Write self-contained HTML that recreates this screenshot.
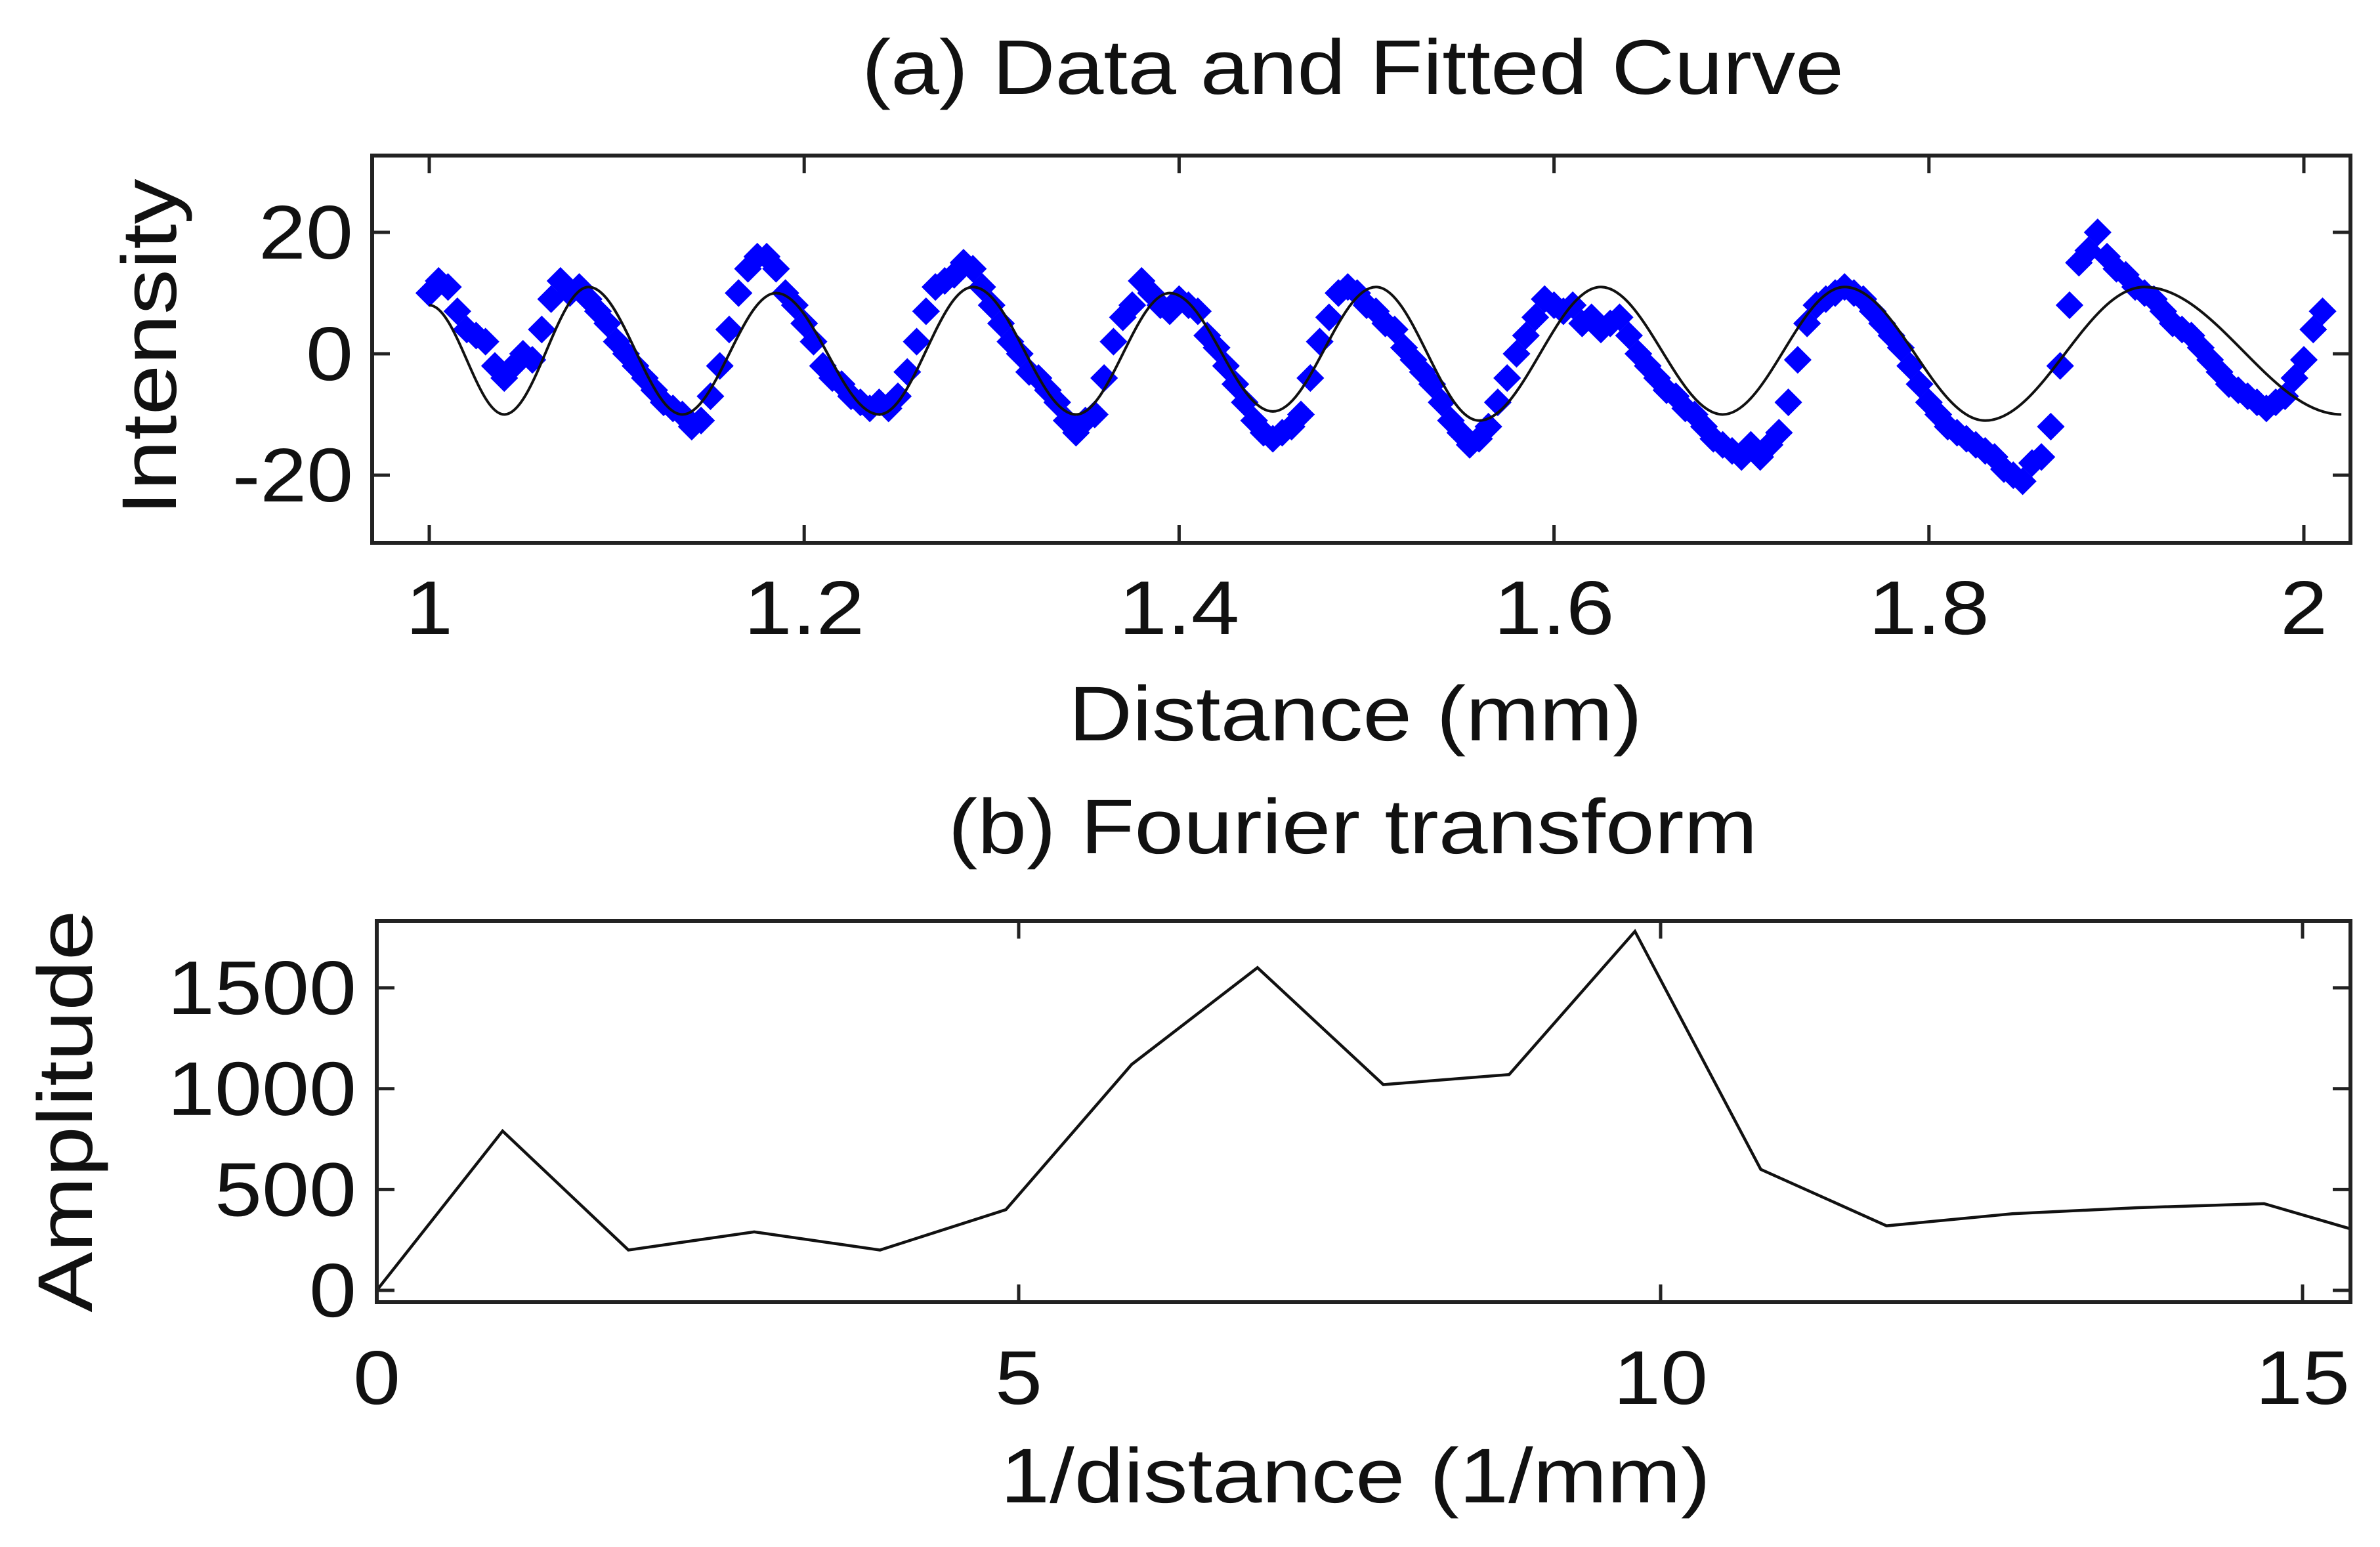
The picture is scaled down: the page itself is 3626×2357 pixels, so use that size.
<!DOCTYPE html>
<html><head><meta charset="utf-8"><style>
html,body{margin:0;padding:0;background:#fff;}
svg{display:block;font-family:"Liberation Sans",Arial,sans-serif;}
</style></head><body>
<svg id="fig" width="3626" height="2357" viewBox="0 0 3626 2357" xmlns="http://www.w3.org/2000/svg">
<rect x="0" y="0" width="3626" height="2357" fill="#fff"/>
<g id="pa"></g>
<g id="pb"></g>
</svg>
<script>
// ---- Panel (a) data ----
const dataX = [1.00,1.005,1.01,1.015,1.02,1.025,1.03,1.035,1.04,1.045,1.05,1.055,1.06,1.065,1.07,1.075,1.08,1.085,1.09,1.095,1.10,1.105,1.11,1.115,1.12,1.125,1.13,1.135,1.14,1.145,1.15,1.155,1.16,1.165,1.17,1.175,1.18,1.185,1.19,1.195,1.20,1.205,1.21,1.215,1.22,1.225,1.23,1.235,1.24,1.245,1.25,1.255,1.26,1.265,1.27,1.275,1.28,1.285,1.29,1.295,1.30,1.305,1.31,1.315,1.32,1.325,1.33,1.335,1.34,1.345,1.35,1.355,1.36,1.365,1.37,1.375,1.38,1.385,1.39,1.395,1.40,1.405,1.41,1.415,1.42,1.425,1.43,1.435,1.44,1.445,1.45,1.455,1.46,1.465,1.47,1.475,1.48,1.485,1.49,1.495,1.50,1.505,1.51,1.515,1.52,1.525,1.53,1.535,1.54,1.545,1.55,1.555,1.56,1.565,1.57,1.575,1.58,1.585,1.59,1.595,1.60,1.605,1.61,1.615,1.62,1.625,1.63,1.635,1.64,1.645,1.65,1.655,1.66,1.665,1.67,1.675,1.68,1.685,1.69,1.695,1.70,1.705,1.71,1.715,1.72,1.725,1.73,1.735,1.74,1.745,1.75,1.755,1.76,1.765,1.77,1.775,1.78,1.785,1.79,1.795,1.80,1.805,1.81,1.815,1.82,1.825,1.83,1.835,1.84,1.845,1.85,1.855,1.86,1.865,1.87,1.875,1.88,1.885,1.89,1.895,1.90,1.905,1.91,1.915,1.92,1.925,1.93,1.935,1.94,1.945,1.95,1.955,1.96,1.965,1.97,1.975,1.98,1.985,1.99,1.995,2.00,2.005,2.01];
const dataY = [10,12,11,7,4,3,2,-2,-4,-2,0,-1,4,9,12,10,11,9,7,5,2,0,-2,-4,-6,-8,-9,-10,-12,-11,-7,-2,4,10,14,16,16,14,10,8,5,2,-2,-4,-5,-7,-8,-9,-8,-9,-7,-3,2,7,11,12,13,15,14,11,8,5,2,0,-3,-4,-6,-8,-11,-13,-11,-10,-4,2,6,8,12,10,8,7,9,8,7,3,1,-2,-5,-8,-11,-13,-14,-13,-12,-10,-4,2,6,10,11,10,8,7,5,4,1,-1,-3,-5,-8,-11,-13,-15,-14,-12,-8,-4,0,3,6,9,8,7,8,5,6,4,5,6,3,0,-2,-4,-6,-7,-9,-10,-12,-14,-15,-16,-17,-15,-17,-15,-13,-8,-1,5,8,9,10,11,10,9,7,5,3,1,-2,-5,-8,-10,-12,-13,-14,-15,-16,-17,-19,-20,-21,-18,-17,-12,-2,8,15,17,20,16,14,13,11,10,9,7,5,4,3,1,-1,-3,-5,-6,-7,-8,-9,-8,-7,-4,-1,4,7];
// fitted curve extrema (x, y)
const fitX = [1.00,1.04,1.085,1.135,1.185,1.24,1.29,1.345,1.395,1.45,1.505,1.56,1.625,1.69,1.755,1.83,1.915,2.02];
const fitY = [8,-10,11,-10,10,-10,11,-10,10,-9.5,11,-11,11,-10,11,-11,11,-10];
const xTicksA = [1,1.2,1.4,1.6,1.8,2];
const xTickLabelsA = ["1","1.2","1.4","1.6","1.8","2"];
const yTicksA = [-20,0,20];
const yTickLabelsA = ["-20","0","20"];
// ---- Panel (b) data ----
const freqX = [0,0.98,1.96,2.94,3.92,4.9,5.88,6.86,7.84,8.82,9.8,10.78,11.76,12.74,13.72,14.7,15.4];
const ampY = [0,790,200,290,200,400,1120,1600,1020,1070,1780,600,320,380,410,430,300];
const xTicksB = [0,5,10,15];
const xTickLabelsB = ["0","5","10","15"];
const yTicksB = [0,500,1000,1500];
const yTickLabelsB = ["0","500","1000","1500"];

const NS="http://www.w3.org/2000/svg";
function mk(tag,parent){const e=document.createElementNS(NS,tag);parent.appendChild(e);return e;}
function lenOf(s){let w=0;for(const c of s){w+=(c==='.'||c==='-')?40:72;}return w;}

const A={l:567,r:3581,t:237,b:827};
const ax=v=>654+(v-1)*(3510-654);
const ay=v=>539-v*9.25;
const B={l:574,r:3581,t:1403,b:1984};
const bx=v=>574+v*(3508-574)/15;
const by=v=>1966-v*0.3073;

const pa=document.getElementById('pa');
const pb=document.getElementById('pb');

function frame(g,F,nm){
  const r=mk('rect',g);
  r.setAttribute('x',F.l);r.setAttribute('y',F.t);r.setAttribute('width',F.r-F.l);r.setAttribute('height',F.b-F.t);
  r.setAttribute('fill','none');r.setAttribute('stroke','#222');r.setAttribute('stroke-width','6');
  
  
}
function text(g,x,y,s,size,anchor,nm,len,rot){
  const t=mk('text',g);
  t.setAttribute('x',x);t.setAttribute('y',y);t.setAttribute('font-size',size);t.setAttribute('text-anchor',anchor);t.setAttribute('fill','#111');
  if(len){t.setAttribute('textLength',len);t.setAttribute('lengthAdjust','spacingAndGlyphs');}
  if(rot)t.setAttribute('transform','rotate(-90 '+x+' '+y+')');
  t.textContent=s;
  
  
  return t;
}
function tick(g,x1,y1,x2,y2){
  const l=mk('line',g);
  l.setAttribute('x1',x1);l.setAttribute('y1',y1);l.setAttribute('x2',x2);l.setAttribute('y2',y2);
  l.setAttribute('stroke','#222');l.setAttribute('stroke-width','5');
  
  
}

// ----- Panel A -----
text(pa,2061,143,"(a) Data and Fitted Curve",118,'middle','title-a',1496);
const mg=mk('g',pa);


for(let i=0;i<dataX.length;i++){
  const x=ax(dataX[i]),y=ay(dataY[i]),s=19;
  const p=mk('path',mg);
  p.setAttribute('d',`M${x} ${y-s}L${x+s} ${y}L${x} ${y+s}L${x-s} ${y}Z`);
  p.setAttribute('fill','#0000ff');p.setAttribute('stroke','#0000ff');p.setAttribute('stroke-width','3');
  
  
}
let d=`M${ax(fitX[0])} ${ay(fitY[0])}`;
for(let i=1;i<fitX.length;i++){
  const x0=ax(fitX[i-1]),y0=ay(fitY[i-1]),x1=ax(fitX[i]),y1=ay(fitY[i]);
  const dx=(x1-x0)*0.36;
  d+=` C${x0+dx} ${y0} ${x1-dx} ${y1} ${x1} ${y1}`;
}
const fc=mk('path',pa);
fc.setAttribute('d',d);fc.setAttribute('fill','none');fc.setAttribute('stroke','#111');fc.setAttribute('stroke-width','4');


frame(pa,A,'plot-frame-a');
xTicksA.forEach((v,i)=>{
  const x=ax(v);tick(pa,x,A.b,x,A.b-27);tick(pa,x,A.t,x,A.t+27);
  text(pa,x,966,xTickLabelsA[i],116,'middle','x-tick-label',lenOf(xTickLabelsA[i]));
});
yTicksA.forEach((v,i)=>{
  const y=ay(v);tick(pa,A.l,y,A.l+27,y);tick(pa,A.r,y,A.r-27,y);
  text(pa,538,y+40,yTickLabelsA[i],116,'end','y-tick-label',lenOf(yTickLabelsA[i]));
});
text(pa,2065,1128,"Distance (mm)",118,'middle','x-axis-title-a',874);
text(pa,268,529,"Intensity",118,'middle','y-axis-title-a',513,true);

// ----- Panel B -----
text(pb,2061,1300,"(b) Fourier transform",118,'middle','title-b',1233);
let d2='';
freqX.forEach((v,i)=>{d2+=(i?'L':'M')+bx(v)+' '+by(ampY[i]);});
const cp=mk('clipPath',pb);cp.setAttribute('id','clipb');
const cr=mk('rect',cp);cr.setAttribute('x',B.l);cr.setAttribute('y',B.t);cr.setAttribute('width',B.r-B.l);cr.setAttribute('height',B.b-B.t);
const ln=mk('path',pb);
ln.setAttribute('d',d2);ln.setAttribute('fill','none');ln.setAttribute('stroke','#111');ln.setAttribute('stroke-width','4.5');ln.setAttribute('clip-path','url(#clipb)');


frame(pb,B,'plot-frame-b');
xTicksB.forEach((v,i)=>{
  const x=bx(v);tick(pb,x,B.b,x,B.b-27);tick(pb,x,B.t,x,B.t+27);
  text(pb,x,2139,xTickLabelsB[i],116,'middle','x-tick-label',lenOf(xTickLabelsB[i]));
});
yTicksB.forEach((v,i)=>{
  const y=by(v);tick(pb,B.l,y,B.l+27,y);tick(pb,B.r,y,B.r-27,y);
  text(pb,543,y+40,yTickLabelsB[i],116,'end','y-tick-label',lenOf(yTickLabelsB[i]));
});
text(pb,2065,2289,"1/distance (1/mm)",118,'middle','x-axis-title-b',1082);
text(pb,140,1693,"Amplitude",118,'middle','y-axis-title-b',613,true);
</script>
</body></html>
